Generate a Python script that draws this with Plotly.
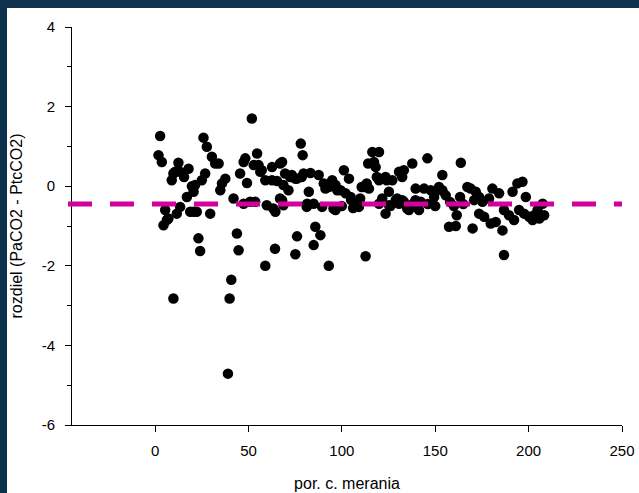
import plotly.graph_objects as go

# ---- data ----
meas_x = [1.8, 2.7, 3.6, 4.5, 5.4, 6.3, 7.1, 8.9, 9.8, 9.8, 10.7, 11.6, 12.5, 13.4, 13.4, 15.5,
          17.0, 17.9, 18.8, 19.7, 20.6, 20.6, 21.4, 22.3, 23.2, 24.1, 25.0, 25.9, 26.8, 27.7, 29.5,
          30.4, 32.2, 34.0, 34.9, 35.8, 37.6, 39.0, 39.9, 40.8, 42.0, 43.8, 44.7, 45.5, 47.4, 48.3,
          47.4, 49.2, 50.9, 51.8, 52.8, 53.6, 54.6, 55.4, 56.3, 57.1, 59.0, 59.0, 59.8, 62.6, 62.6,
          63.3, 64.4, 64.2, 65.3, 66.9, 66.9, 68.0, 68.0, 68.7, 68.7, 69.6, 71.4, 72.3, 73.2, 75.1,
          75.0, 76.0, 76.0, 78.0, 78.5, 79.0, 79.5, 81.2, 81.4, 82.3, 83.2, 84.9, 84.9, 85.8, 87.6,
          88.5, 89.4, 90.3, 91.2, 93.0, 93.0, 94.8, 95.5, 96.6, 96.6, 97.5, 99.3, 100.0, 101.1,
          102.0, 103.8, 104.7, 105.0, 106.0, 107.3, 109.1, 109.8, 110.6, 111.8, 112.7, 113.3,
          114.1, 114.5, 116.3, 117.2, 118.1, 118.7, 119.9, 119.9, 119.9, 120.4, 121.6, 123.4,
          123.4, 124.0, 125.2, 125.2, 126.0, 127.0, 128.8, 129.6, 130.6, 130.6, 132.3, 132.3,
          133.2, 133.2, 135.0, 135.9, 137.7, 138.0, 139.5, 139.4, 141.3, 142.2, 144.0, 145.8,
          146.0, 147.6, 149.4, 150.0, 151.0, 152.0, 153.8, 153.8, 155.6, 157.4, 158.0, 160.0,
          161.0, 161.5, 163.3, 163.7, 165.0, 167.2, 169.0, 170.0, 170.8, 171.7, 173.5, 173.5,
          175.3, 176.2, 178.8, 179.7, 180.6, 182.4, 184.2, 186.0, 186.8, 186.8, 189.5, 191.4,
          192.2, 194.0, 194.9, 196.7, 197.6, 198.5, 200.3, 202.1, 203.0, 204.8, 205.7, 207.5,
          208.3]
diff_y = [0.78, 1.26, 0.61, -0.98, -0.60, -0.85, -0.81, 0.15, -2.82, 0.32, 0.36, -0.69, 0.59, -0.52, 0.36, 0.23,
          -0.27, 0.44, -0.64, 0.00, -0.14, -0.64, 0.03, -0.64, -1.31, -1.63, 0.15, 1.22, 0.32, 0.99, -0.69,
          0.74, 0.57, 0.57, -0.10, 0.07, 0.19, -4.71, -2.82, -2.35, -0.31, -1.19, -1.61, 0.32, 0.61, 0.70,
          -0.44, 0.08, -0.39, 1.70, 0.53, -0.39, 0.82, 0.53, 0.36, 0.40, -2.00, 0.15, -0.48, 0.48, 0.15,
          -0.56, -0.64, -1.57, 0.13, 0.57, -0.31, 0.61, -0.35, 0.03, -0.48, 0.32, -0.10, 0.23, 0.28, -1.71,
          0.19, 0.19, -1.26, 1.07, 0.23, 0.78, 0.32, -0.52, -0.44, -0.14, 0.33, -0.44, -1.48, -1.02, 0.28,
          -1.23, -0.52, 0.07, -0.06, -2.00, -0.02, 0.15, -0.56, 0.03, -0.60, -0.10, -0.10, -0.50, 0.40,
          -0.18, 0.19, -0.27, -0.35, -0.55, -0.44, -0.52, -0.31, -0.02, -0.02, -1.76, 0.07,
          0.57, -0.06, 0.86, 0.61, 0.48, 0.23, 0.86, 0.15, -0.44, 0.19, -0.31, 0.23,
          -0.69, 0.15, -0.14, -0.48, -0.50, 0.15, -0.35, -0.31, 0.36, -0.44, 0.23, -0.35,
          0.40, -0.39, -0.56, -0.60, 0.57, -0.45, -0.06, -0.35, -0.60, -0.39, -0.06, 0.70,
          -0.45, -0.10, -0.27, -0.50, -0.10, -0.02, 0.28, -0.10, -0.23, -1.02, -0.40, -0.50,
          -1.00, -0.73, -0.27, 0.59, -0.45, -0.02, -0.06, -1.06, -0.35, -0.14, -0.27, -0.69,
          -0.39, -0.77, -0.31, -0.94, -0.06, -0.90, -0.18, -1.11, -1.73, -0.60, -0.73, -0.14,
          -0.85, 0.07, -0.60, 0.11, -0.69, -0.27, -0.77, -0.85, -0.73, -0.60, -0.81, -0.44,
          -0.73]
mean_diff = -0.45
x_ticks = [0, 50, 100, 150, 200, 250]
x_tick_labels = ["0", "50", "100", "150", "200", "250"]
y_ticks = [-6, -4, -2, 0, 2, 4]
y_tick_labels = ["-6", "-4", "-2", "0", "2", "4"]
x_title = "por. c. merania"
y_title = "rozdiel (PaCO2 - PtcCO2)"

# ---- layout geometry ----
W, H = 639, 493
ML, MR, MT, MB = 72, 17, 27, 68
PW, PH = W - ML - MR, H - MT - MB
NAVY = "#0c324e"
PINK = "#d4009a"


def px_x(p):
    return (p - ML) / PW


def px_y(p):
    return (H - MB - p) / PH


fig = go.Figure()
fig.add_trace(go.Scatter(
    x=meas_x, y=diff_y, mode="markers",
    marker=dict(color="black", size=10.5, line=dict(width=0)),
    showlegend=False, cliponaxis=False, hoverinfo="skip"))

font = dict(family="Liberation Sans, Arial, sans-serif", size=15, color="black")

fig.update_layout(
    width=W, height=H,
    margin=dict(l=ML, r=MR, t=MT, b=MB, autoexpand=False),
    paper_bgcolor="white", plot_bgcolor="white",
    font=font,
    xaxis=dict(range=[-44.5, 250], tickvals=x_ticks, ticktext=x_tick_labels,
               ticks="outside", ticklen=6, automargin=False,
               tickcolor="black", showline=True, linecolor="black", linewidth=1,
               showgrid=False, zeroline=False, ticklabelstandoff=6,
               title=dict(text=x_title, font=dict(size=16), standoff=19)),
    yaxis=dict(range=[-6, 4], tickvals=y_ticks, ticktext=y_tick_labels,
               ticks="outside", ticklen=6, automargin=False,
               tickcolor="black", showline=True, linecolor="black", linewidth=1,
               showgrid=False, zeroline=False, ticklabelstandoff=7,
               minor=dict(dtick=1, ticks="outside", ticklen=4, tickcolor="black", showgrid=False),
               title=dict(text=y_title, font=dict(size=16), standoff=15)),
    shapes=[
        dict(type="rect", xref="paper", yref="paper", x0=px_x(0), x1=px_x(7),
             y0=px_y(H), y1=px_y(0), fillcolor=NAVY, line=dict(width=0), layer="below"),
        dict(type="rect", xref="paper", yref="paper", x0=px_x(0), x1=px_x(W),
             y0=px_y(8), y1=px_y(0), fillcolor=NAVY, line=dict(width=0), layer="below"),
        dict(type="line", xref="paper", yref="y", x0=px_x(68), x1=1.0,
             y0=mean_diff, y1=mean_diff, line=dict(color=PINK, width=5, dash="24px,18px"),
             layer="above"),
    ],
)

fig.write_html(
    "out.html", config={"displayModeBar": False},
    post_script=("document.body.style.margin='0';document.body.style.overflow='hidden';"
                 "document.documentElement.style.overflow='hidden';"
                 "document.body.style.background='white';"))
